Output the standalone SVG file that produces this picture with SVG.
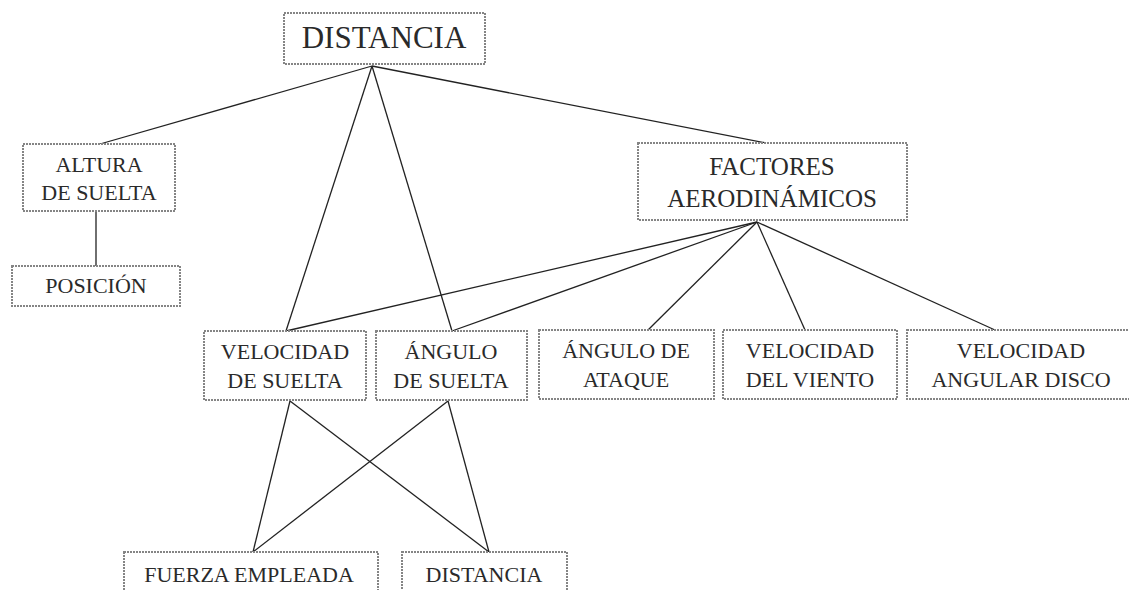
<svg xmlns="http://www.w3.org/2000/svg" width="1129" height="590" viewBox="0 0 1129 590">
<style>
.box{fill:#fff;stroke:#858585;stroke-width:2;stroke-dasharray:2 1}
text{font-family:"Liberation Serif","DejaVu Serif",serif;fill:#2a2a2a;text-anchor:middle;font-size:22px}
.big{font-size:31px}
.mid{font-size:25px}
.c line{stroke:#222;stroke-width:1.3}
</style>
<rect width="1129" height="590" fill="#fff"/>
<g class="c" id="connectors">
<line x1="372" y1="66" x2="100" y2="144"/>
<line x1="372" y1="66" x2="286" y2="331"/>
<line x1="372" y1="66" x2="452" y2="331"/>
<line x1="372" y1="66" x2="766" y2="143"/>
<line x1="96" y1="211" x2="96" y2="266"/>
<line x1="757" y1="222" x2="286" y2="331"/>
<line x1="757" y1="222" x2="452" y2="331"/>
<line x1="757" y1="222" x2="648" y2="330"/>
<line x1="757" y1="222" x2="805" y2="330"/>
<line x1="757" y1="222" x2="995" y2="330"/>
<line x1="290" y1="401" x2="253" y2="552"/>
<line x1="290" y1="401" x2="489" y2="552"/>
<line x1="448" y1="401" x2="253" y2="552"/>
<line x1="448" y1="401" x2="489" y2="552"/>
</g>
<g id="n-distancia"><rect class="box" x="284" y="13" width="201" height="51"/><text class="big" x="384" y="48">DISTANCIA</text></g>
<g id="n-altura"><rect class="box" x="23" y="144" width="152" height="67"/><text x="99" y="172">ALTURA</text><text x="99" y="200">DE SUELTA</text></g>
<g id="n-posicion"><rect class="box" x="12" y="266" width="168" height="40"/><text x="96" y="293">POSICIÓN</text></g>
<g id="n-factores"><rect class="box" x="638" y="143" width="269" height="77"/><text class="mid" x="772" y="175">FACTORES</text><text class="mid" x="772" y="207">AERODINÁMICOS</text></g>
<g id="n-velocidad-suelta"><rect class="box" x="204" y="331" width="162" height="69"/><text x="285" y="359">VELOCIDAD</text><text x="285" y="388">DE SUELTA</text></g>
<g id="n-angulo-suelta"><rect class="box" x="376" y="331" width="151" height="69"/><text x="451" y="359">ÁNGULO</text><text x="451" y="388">DE SUELTA</text></g>
<g id="n-angulo-ataque"><rect class="box" x="539" y="330" width="175" height="69"/><text x="626" y="358">ÁNGULO DE</text><text x="626" y="387">ATAQUE</text></g>
<g id="n-velocidad-viento"><rect class="box" x="723" y="330" width="174" height="69"/><text x="810" y="358">VELOCIDAD</text><text x="810" y="387">DEL VIENTO</text></g>
<g id="n-velocidad-angular"><rect class="box" x="907" y="330" width="230" height="69"/><text x="1021" y="358">VELOCIDAD</text><text x="1021" y="387">ANGULAR DISCO</text></g>
<g id="n-fuerza"><rect class="box" x="124" y="552" width="254" height="50"/><text x="249" y="582">FUERZA EMPLEADA</text></g>
<g id="n-distancia2"><rect class="box" x="402" y="552" width="165" height="50"/><text x="484" y="582">DISTANCIA</text></g>
</svg>
